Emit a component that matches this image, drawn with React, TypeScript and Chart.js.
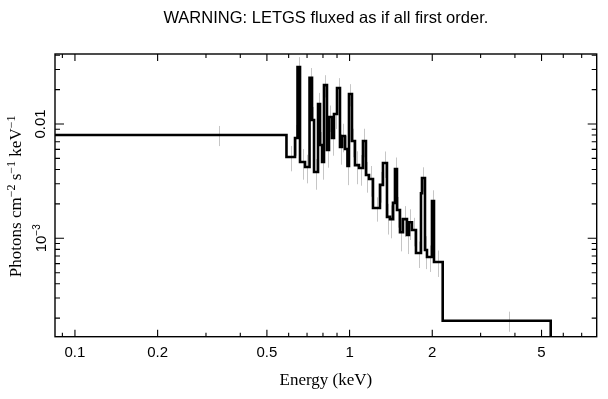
import React, { useEffect, useRef } from "react";
import { Chart, registerables } from "chart.js";

Chart.register(...registerables);

const TITLE = "WARNING: LETGS fluxed as if all first order.";
const X_TITLE = "Energy (keV)";

// bin edges in keV (51 edges -> 50 bins)
const binEdges = [
  0.0817, 0.5891, 0.6329, 0.6463, 0.66, 0.6883, 0.7148, 0.7299, 0.7423, 0.7676,
  0.7806, 0.7938, 0.8069, 0.8274, 0.8414, 0.8628, 0.8774, 0.9, 0.9227, 0.9383,
  0.9622, 0.9826, 0.995, 1.0203, 1.0463, 1.082, 1.1188, 1.1473, 1.1767, 1.2168,
  1.2903, 1.3231, 1.3682, 1.4031, 1.4389, 1.4632, 1.488, 1.5259, 1.5647, 1.618,
  1.6453, 1.6873, 1.7449, 1.8197, 1.835, 1.8817, 1.9135, 1.9956, 2.0294, 2.183,
  5.3996,
];

// photons cm^-2 s^-1 keV^-1 per bin
const fluxValues = [
  0.00801, 0.00514, 0.00754, 0.0315, 0.00465, 0.0042, 0.0253, 0.01084, 0.0038, 0.01496,
  0.00655, 0.00465, 0.0219, 0.00592, 0.01151, 0.00754, 0.01223, 0.02065, 0.00629, 0.00785,
  0.00604, 0.00429, 0.01829, 0.0071, 0.00437, 0.00412, 0.0071, 0.00358, 0.0033, 0.00184,
  0.00293, 0.00456, 0.00154, 0.00147, 0.00204, 0.00404, 0.00177, 0.00113, 0.00147, 0.00107,
  0.00138, 0.00118, 0.000743, 0.00248, 0.00337, 0.00079, 0.000686, 0.00212, 0.00062, 0.00019,
];

// relative 1-sigma errors per bin
const fluxErrFrac = [
  0.2, 0.25, 0.3, 0.22, 0.3, 0.28, 0.22, 0.3, 0.3, 0.25,
  0.3, 0.3, 0.22, 0.3, 0.26, 0.3, 0.26, 0.22, 0.3, 0.28,
  0.3, 0.32, 0.22, 0.28, 0.32, 0.3, 0.28, 0.3, 0.3, 0.24,
  0.3, 0.26, 0.3, 0.32, 0.3, 0.26, 0.3, 0.32, 0.3, 0.32,
  0.3, 0.28, 0.26, 0.3, 0.24, 0.32, 0.26, 0.24, 0.26, 0.2,
];

const xTickValues = [0.09, 0.1, 0.2, 0.3, 0.4, 0.5, 0.6, 0.7, 0.8, 0.9, 1, 2, 3, 4, 5, 6, 7];
const xMajorTicks = [0.1, 0.2, 0.5, 1, 2, 5];
const xTickLabels = ["0.1", "0.2", "0.5", "1", "2", "5"];

const yTickValues = [
  2e-4, 3e-4, 4e-4, 5e-4, 6e-4, 7e-4, 8e-4, 9e-4, 1e-3,
  2e-3, 3e-3, 4e-3, 5e-3, 6e-3, 7e-3, 8e-3, 9e-3, 0.01, 0.02, 0.03, 0.04,
];
const yMajorTicks = [1e-3, 0.01];

const X_MIN = 0.0846;
const X_MAX = 7.94;
const Y_MIN = 1.377e-4;
const Y_MAX = 0.04096;

const SANS = '"Liberation Sans", Arial, Helvetica, sans-serif';
const SERIF = '"Liberation Serif", "Times New Roman", serif';

const framePlugin = {
  id: "frame",
  beforeDatasetsDraw(chart: any) {
    const { ctx, chartArea } = chart;
    const xs = chart.scales.x;
    const ys = chart.scales.y;
    ctx.save();
    ctx.beginPath();
    ctx.rect(chartArea.left, chartArea.top, chartArea.right - chartArea.left, chartArea.bottom - chartArea.top);
    ctx.clip();
    ctx.strokeStyle = "#c6c6c6";
    ctx.lineWidth = 1;
    for (let i = 0; i < fluxValues.length; i++) {
      const xc = (binEdges[i] + binEdges[i + 1]) / 2;
      const v = fluxValues[i];
      const f = fluxErrFrac[i];
      const px = Math.round(xs.getPixelForValue(xc)) + 0.5;
      const p1 = ys.getPixelForValue(v * (1 + f));
      const p2 = ys.getPixelForValue(v * (1 - f));
      ctx.beginPath();
      ctx.moveTo(px, p1);
      ctx.lineTo(px, p2);
      ctx.stroke();
    }
    ctx.restore();
  },
  afterDraw(chart: any) {
    const { ctx, chartArea } = chart;
    const { left, right, top, bottom } = chartArea;
    const xs = chart.scales.x;
    const ys = chart.scales.y;
    ctx.save();
    ctx.strokeStyle = "#000";
    ctx.lineWidth = 1.4;
    ctx.strokeRect(left, top, right - left, bottom - top);
    ctx.lineWidth = 1.1;
    ctx.beginPath();
    for (const v of xTickValues) {
      const px = xs.getPixelForValue(v);
      const len = xMajorTicks.includes(v) ? 7 : 4;
      ctx.moveTo(px, bottom);
      ctx.lineTo(px, bottom - len);
      ctx.moveTo(px, top);
      ctx.lineTo(px, top + len);
    }
    for (const v of yTickValues) {
      const py = ys.getPixelForValue(v);
      const len = yMajorTicks.includes(v) ? 9 : 5;
      ctx.moveTo(left, py);
      ctx.lineTo(left + len, py);
      ctx.moveTo(right, py);
      ctx.lineTo(right - len, py);
    }
    ctx.stroke();

    // y tick labels (rotated)
    ctx.fillStyle = "#000";
    ctx.textBaseline = "middle";
    const labelX = 41;
    {
      const py = ys.getPixelForValue(0.01);
      ctx.save();
      ctx.translate(labelX, py);
      ctx.rotate(-Math.PI / 2);
      ctx.font = `15px ${SANS}`;
      ctx.textAlign = "center";
      ctx.fillText("0.01", 0, 0);
      ctx.restore();
    }
    {
      const py = ys.getPixelForValue(1e-3);
      ctx.save();
      ctx.translate(labelX, py);
      ctx.rotate(-Math.PI / 2);
      ctx.textAlign = "left";
      ctx.font = `15px ${SANS}`;
      const w1 = ctx.measureText("10").width;
      ctx.font = `10px ${SANS}`;
      const w2 = ctx.measureText("\u22123").width;
      const start = -(w1 + w2) / 2;
      ctx.font = `15px ${SANS}`;
      ctx.fillText("10", start, 1);
      ctx.font = `10px ${SANS}`;
      ctx.fillText("\u22123", start + w1, -4);
      ctx.restore();
    }

    // y axis title with superscripts
    const parts: [string, boolean][] = [
      ["Photons cm", false],
      ["\u22122", true],
      [" s", false],
      ["\u22121", true],
      [" keV", false],
      ["\u22121", true],
    ];
    const normalFont = `17px ${SERIF}`;
    const supFont = `12px ${SERIF}`;
    let total = 0;
    for (const [t, sup] of parts) {
      ctx.font = sup ? supFont : normalFont;
      total += ctx.measureText(t).width;
    }
    ctx.save();
    ctx.translate(17, (top + bottom) / 2 + 1);
    ctx.rotate(-Math.PI / 2);
    ctx.textAlign = "left";
    let cx = -total / 2;
    for (const [t, sup] of parts) {
      ctx.font = sup ? supFont : normalFont;
      ctx.fillText(t, cx, sup ? -5 : 0);
      cx += ctx.measureText(t).width;
    }
    ctx.restore();
    ctx.restore();
  },
};

export default function App() {
  const canvasRef = useRef<HTMLCanvasElement | null>(null);

  useEffect(() => {
    if (!canvasRef.current) return;
    const points: { x: number; y: number }[] = [];
    for (let i = 0; i < fluxValues.length; i++) {
      points.push({ x: binEdges[i], y: fluxValues[i] });
    }
    points.push({ x: binEdges[binEdges.length - 1], y: fluxValues[fluxValues.length - 1] });
    points.push({ x: binEdges[binEdges.length - 1], y: Y_MIN / 2 });

    const chart = new Chart(canvasRef.current, {
      type: "line",
      data: {
        datasets: [
          {
            data: points,
            borderColor: "#000",
            borderWidth: 2.6,
            pointRadius: 0,
            stepped: true,
            fill: false,
            borderJoinStyle: "miter",
            borderCapStyle: "butt",
            clip: 0,
          } as any,
        ],
      },
      options: {
        animation: false,
        responsive: false,
        maintainAspectRatio: false,
        events: [],
        layout: { padding: { left: 0, right: 11.3, top: 0, bottom: 0 } },
        plugins: {
          legend: { display: false },
          tooltip: { enabled: false },
          title: {
            display: true,
            fullSize: false,
            text: TITLE,
            color: "#000",
            font: { family: SANS, size: 16.5, weight: "normal" as any },
            padding: { top: 9, bottom: 25.2 },
          },
        },
        scales: {
          x: {
            type: "logarithmic",
            min: X_MIN,
            max: X_MAX,
            grid: { display: false, drawTicks: false },
            border: { display: false },
            afterBuildTicks: (s: any) => {
              s.ticks = xTickValues.map((v) => ({ value: v }));
            },
            afterFit: (s: any) => {
              s.height = 62.3;
            },
            ticks: {
              autoSkip: false,
              maxRotation: 0,
              minRotation: 0,
              padding: 7,
              color: "#000",
              font: { family: SANS, size: 15 },
              callback: (value: any) => {
                const idx = xMajorTicks.indexOf(Number(value));
                return idx >= 0 ? xTickLabels[idx] : "";
              },
            },
            title: {
              display: true,
              text: X_TITLE,
              color: "#000",
              font: { family: SERIF, size: 17 },
              padding: { top: 0, bottom: 8.5 },
            },
          },
          y: {
            type: "logarithmic",
            min: Y_MIN,
            max: Y_MAX,
            grid: { display: false, drawTicks: false },
            border: { display: false },
            afterBuildTicks: (s: any) => {
              s.ticks = yTickValues.map((v) => ({ value: v }));
            },
            afterFit: (s: any) => {
              s.width = 55;
            },
            ticks: { display: false },
          },
        },
      } as any,
      plugins: [framePlugin],
    });
    return () => chart.destroy();
  }, []);

  return (
    <div style={{ position: "fixed", left: 0, top: 0, width: 608, height: 399, background: "#fff" }}>
      <canvas ref={canvasRef} width={608} height={399} style={{ display: "block" }} />
    </div>
  );
}
